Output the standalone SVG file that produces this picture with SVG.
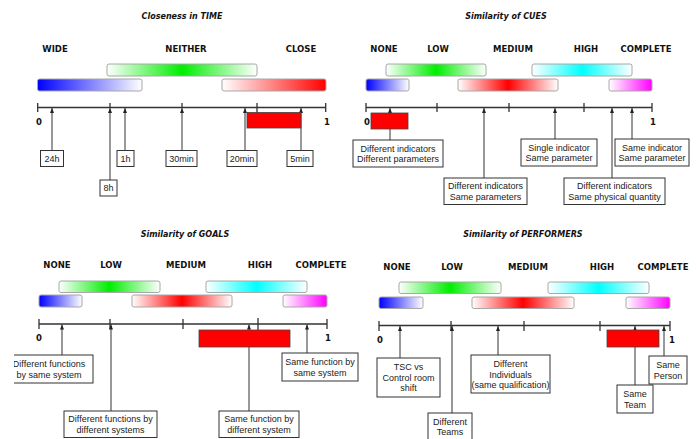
<svg xmlns="http://www.w3.org/2000/svg" width="698" height="439" viewBox="0 0 698 439">
<defs>
<style>
.t{font-family:"DejaVu Sans",Verdana,sans-serif;font-weight:bold;font-style:italic;font-size:8px;text-anchor:middle;fill:#111}
.c{font-family:"DejaVu Sans",Verdana,sans-serif;font-weight:bold;font-size:8.5px;text-anchor:middle;fill:#111}
.b{font-family:"Liberation Sans",Arial,sans-serif;font-size:9px;text-anchor:middle;fill:#222}
.box{fill:#fff;stroke:#333;stroke-width:1}
.ax{stroke:#333;stroke-width:1.3;fill:none}
.con{stroke:#333;stroke-width:1;fill:none;marker-end:url(#ah)}
.bar{stroke:#a8a8a8;stroke-width:1}
.hl{fill:#ff0000;stroke:#444;stroke-width:0.8}
</style>
<marker id="ah" markerUnits="userSpaceOnUse" markerWidth="6" markerHeight="5" refX="5" refY="2" orient="auto">
<path d="M0,0 L5,2 L0,4 z" fill="#222"/>
</marker>
<linearGradient id="gBlue"><stop offset="0" stop-color="#0000ff"/><stop offset="1" stop-color="#ffffff"/></linearGradient>
<linearGradient id="gRedR"><stop offset="0" stop-color="#ffffff"/><stop offset="1" stop-color="#ff0000"/></linearGradient>
<linearGradient id="gGreen"><stop offset="0" stop-color="#ffffff"/><stop offset="0.5" stop-color="#00ee00"/><stop offset="1" stop-color="#ffffff"/></linearGradient>
<linearGradient id="gCyan"><stop offset="0" stop-color="#ffffff"/><stop offset="0.5" stop-color="#00ffff"/><stop offset="1" stop-color="#ffffff"/></linearGradient>
<linearGradient id="gRedM"><stop offset="0" stop-color="#ffffff"/><stop offset="0.5" stop-color="#ff0000"/><stop offset="1" stop-color="#ffffff"/></linearGradient>
<linearGradient id="gMag"><stop offset="0" stop-color="#ffffff"/><stop offset="1" stop-color="#ff00ff"/></linearGradient>
<clipPath id="clipG1"><rect x="14" y="340" width="100" height="60"/></clipPath>
</defs>
<rect width="698" height="439" fill="#fff"/>

<!-- ============ TIME ============ -->
<g id="time">
<text class="t" x="182" y="19">Closeness in TIME</text>
<text class="c" x="55" y="52">WIDE</text>
<text class="c" x="186" y="52">NEITHER</text>
<text class="c" x="301" y="52">CLOSE</text>
<rect class="bar" x="107" y="64" width="150" height="12" rx="2" fill="url(#gGreen)"/>
<rect class="bar" x="37.5" y="79" width="104.5" height="12" rx="2" fill="url(#gBlue)"/>
<rect class="bar" x="222" y="79" width="104" height="12" rx="2" fill="url(#gRedR)"/>
<path class="ax" d="M37.7,107.5 H325.7 M37.7,103 V112 M325.7,103 V112 M110,103 V107.5 M182,103 V107.5 M257,103 V113"/>
<text class="c" x="39" y="125">0</text>
<text class="c" x="327" y="125">1</text>
</g>
<g id="time-connectors">
<line class="con" x1="52" y1="150" x2="52" y2="108"/>
<line class="con" x1="110" y1="180" x2="110" y2="108"/>
<line class="con" x1="125" y1="150" x2="125" y2="108"/>
<line class="con" x1="182" y1="150" x2="182" y2="108"/>
<line class="con" x1="245" y1="150" x2="245" y2="108"/>
<line class="con" x1="301" y1="150" x2="301" y2="108"/>
</g>
<rect id="time-mark" class="hl" x="247" y="112.5" width="54" height="15.5"/>
<g id="t-24h"><rect class="box" x="40.5" y="150.5" width="23" height="16"/><text class="b" x="52" y="161.5">24h</text></g>
<g id="t-8h"><rect class="box" x="100" y="180" width="17" height="16"/><text class="b" x="108.5" y="191">8h</text></g>
<g id="t-1h"><rect class="box" x="117" y="150.5" width="17" height="16"/><text class="b" x="125.5" y="161.5">1h</text></g>
<g id="t-30min"><rect class="box" x="166" y="150.5" width="31" height="16"/><text class="b" x="181.5" y="161.5">30min</text></g>
<g id="t-20min"><rect class="box" x="227" y="150.5" width="30" height="16"/><text class="b" x="242" y="161.5">20min</text></g>
<g id="t-5min"><rect class="box" x="287" y="150.5" width="26" height="16"/><text class="b" x="300" y="161.5">5min</text></g>

<!-- ============ CUES ============ -->
<g id="cues">
<text class="t" x="506" y="19">Similarity of CUES</text>
<text class="c" x="384" y="52">NONE</text>
<text class="c" x="438" y="52">LOW</text>
<text class="c" x="513" y="52">MEDIUM</text>
<text class="c" x="586" y="52">HIGH</text>
<text class="c" x="646" y="52">COMPLETE</text>
<rect class="bar" x="386" y="64" width="100" height="12" rx="2" fill="url(#gGreen)"/>
<rect class="bar" x="532" y="64" width="100" height="12" rx="2" fill="url(#gCyan)"/>
<rect class="bar" x="366" y="79" width="43" height="12" rx="2" fill="url(#gBlue)"/>
<rect class="bar" x="458" y="79" width="100" height="12" rx="2" fill="url(#gRedM)"/>
<rect class="bar" x="609" y="79" width="43" height="12" rx="2" fill="url(#gMag)"/>
<path class="ax" d="M366,107.5 H652 M366,103 V112 M437,103 V112 M509,103 V112 M584,103 V112 M652,103 V112"/>
<text class="c" x="367" y="125">0</text>
<text class="c" x="653" y="125">1</text>
</g>
<g id="cues-connectors">
<line class="con" x1="390" y1="140" x2="390" y2="108"/>
<line class="con" x1="484" y1="178" x2="484" y2="108"/>
<line class="con" x1="555" y1="139" x2="555" y2="108"/>
<line class="con" x1="612" y1="178" x2="612" y2="108"/>
<line class="con" x1="632" y1="139" x2="632" y2="108"/>
</g>
<rect id="cues-mark" class="hl" x="371" y="113" width="37" height="16"/>
<g id="c-diffdiff"><rect class="box" x="353" y="140" width="90" height="27"/><text class="b" x="398" y="151.5">Different indicators</text><text class="b" x="398" y="162.2">Different parameters</text></g>
<g id="c-diffsame"><rect class="box" x="444" y="178" width="83" height="26.5"/><text class="b" x="485.5" y="189.3">Different indicators</text><text class="b" x="485.5" y="200">Same parameters</text></g>
<g id="c-single"><rect class="box" x="521" y="139" width="76" height="27"/><text class="b" x="559" y="150.5">Single indicator</text><text class="b" x="559" y="161.2">Same parameter</text></g>
<g id="c-phys"><rect class="box" x="564" y="178" width="101" height="26.5"/><text class="b" x="614.5" y="189.3">Different indicators</text><text class="b" x="614.5" y="200">Same physical quantity</text></g>
<g id="c-same"><rect class="box" x="615" y="139" width="74" height="27"/><text class="b" x="652" y="150.5">Same indicator</text><text class="b" x="652" y="161.2">Same parameter</text></g>

<!-- ============ GOALS ============ -->
<g id="goals">
<text class="t" x="185" y="237">Similarity of GOALS</text>
<text class="c" x="57" y="268">NONE</text>
<text class="c" x="111" y="268">LOW</text>
<text class="c" x="186" y="268">MEDIUM</text>
<text class="c" x="260" y="268">HIGH</text>
<text class="c" x="321" y="268">COMPLETE</text>
<rect class="bar" x="59" y="281" width="101" height="11.5" rx="2" fill="url(#gGreen)"/>
<rect class="bar" x="206" y="281" width="101" height="11.5" rx="2" fill="url(#gCyan)"/>
<rect class="bar" x="39" y="295" width="43" height="12" rx="2" fill="url(#gBlue)"/>
<rect class="bar" x="132" y="295" width="100" height="12" rx="2" fill="url(#gRedM)"/>
<rect class="bar" x="283" y="295" width="44" height="12" rx="2" fill="url(#gMag)"/>
<path class="ax" d="M39,324 H327 M39,319 V329 M110,319 V329 M183,319 V329 M258,318 V330 M327,319 V329"/>
<text class="c" x="39" y="341">0</text>
<text class="c" x="328" y="341">1</text>
</g>
<g id="goals-connectors">
<line class="con" x1="62" y1="355" x2="62" y2="324.5"/>
<line class="con" x1="111" y1="411" x2="111" y2="324.5"/>
<line class="con" x1="249" y1="411" x2="249" y2="324.5"/>
<line class="con" x1="307" y1="353" x2="307" y2="324.5"/>
</g>
<rect id="goals-mark" class="hl" x="199" y="330" width="91" height="17"/>
<g id="g-diffsame" clip-path="url(#clipG1)"><rect class="box" x="5" y="355" width="88" height="28"/><text class="b" x="49" y="366.8">Different functions</text><text class="b" x="49" y="377.5">by same system</text></g>
<g id="g-diffdiff"><rect class="box" x="64" y="411" width="93" height="26.5"/><text class="b" x="110.5" y="422.3">Different functions by</text><text class="b" x="110.5" y="433">different systems</text></g>
<g id="g-samediff"><rect class="box" x="219" y="411" width="80" height="26.5"/><text class="b" x="259" y="422.3">Same function by</text><text class="b" x="259" y="433">different system</text></g>
<g id="g-samesame"><rect class="box" x="282" y="353" width="76" height="28"/><text class="b" x="320" y="364.8">Same function by</text><text class="b" x="320" y="375.5">same system</text></g>

<!-- ============ PERFORMERS ============ -->
<g id="performers">
<text class="t" x="523" y="237">Similarity of PERFORMERS</text>
<text class="c" x="397" y="270">NONE</text>
<text class="c" x="452" y="270">LOW</text>
<text class="c" x="528" y="270">MEDIUM</text>
<text class="c" x="602" y="270">HIGH</text>
<text class="c" x="663" y="270">COMPLETE</text>
<rect class="bar" x="399" y="282" width="102" height="11.5" rx="2" fill="url(#gGreen)"/>
<rect class="bar" x="548" y="282" width="101" height="11.5" rx="2" fill="url(#gCyan)"/>
<rect class="bar" x="379" y="297" width="44" height="11.5" rx="2" fill="url(#gBlue)"/>
<rect class="bar" x="472" y="297" width="102" height="11.5" rx="2" fill="url(#gRedM)"/>
<rect class="bar" x="626" y="297" width="44" height="11.5" rx="2" fill="url(#gMag)"/>
<path class="ax" d="M379,325.5 H670 M379,321 V331 M451,321 V331 M524,321 V331 M600,321 V331 M670,321 V331"/>
<text class="c" x="380" y="343">0</text>
<text class="c" x="672" y="343">1</text>
</g>
<g id="performers-connectors">
<line class="con" x1="400" y1="358" x2="400" y2="326"/>
<line class="con" x1="452" y1="413" x2="452" y2="326"/>
<line class="con" x1="498" y1="355" x2="498" y2="326"/>
<line class="con" x1="635" y1="385" x2="635" y2="326"/>
<line class="con" x1="664" y1="356" x2="664" y2="326"/>
</g>
<rect id="performers-mark" class="hl" x="607" y="330" width="52" height="17"/>
<g id="p-tsc"><rect class="box" x="377" y="358" width="63" height="39"/><text class="b" x="408.5" y="370">TSC vs</text><text class="b" x="408.5" y="380.7">Control room</text><text class="b" x="408.5" y="391.4">shift</text></g>
<g id="p-teams"><rect class="box" x="428" y="413" width="44" height="28"/><text class="b" x="450" y="424.5">Different</text><text class="b" x="450" y="435.2">Teams</text></g>
<g id="p-indiv"><rect class="box" x="471" y="355" width="79" height="38"/><text class="b" x="510.5" y="366.8">Different</text><text class="b" x="510.5" y="377.5">Individuals</text><text class="b" x="510.5" y="388.2">(same qualification)</text></g>
<g id="p-team"><rect class="box" x="617" y="385" width="36" height="28"/><text class="b" x="635" y="396.8">Same</text><text class="b" x="635" y="407.5">Team</text></g>
<g id="p-person"><rect class="box" x="649" y="356" width="38" height="28"/><text class="b" x="668" y="367.8">Same</text><text class="b" x="668" y="378.5">Person</text></g>
</svg>
